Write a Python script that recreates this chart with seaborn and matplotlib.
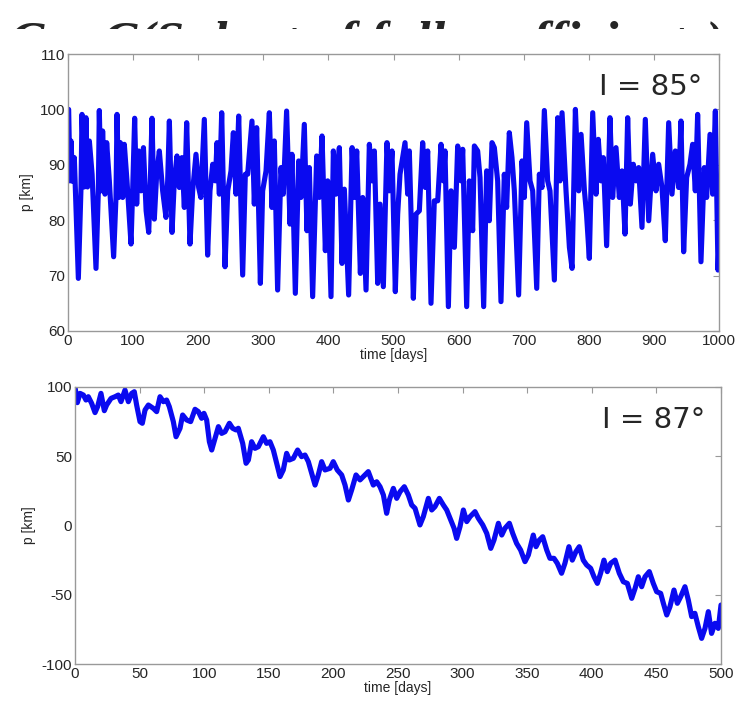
import matplotlib
matplotlib.use("Agg")
import matplotlib.pyplot as plt
import seaborn as sns
import pandas as pd
from matplotlib.patches import Rectangle

# I = 85 deg, periapsis over 1000 days
t85 = [1, 3, 4.6, 7.2, 9.7, 15.9, 20, 21.5, 25, 27.6, 30, 32.8, 37, 43, 46.6, 48.1, 50.7, 53.2, 56.8,
       59.4, 63.5, 70.1, 73.7, 75.3, 78, 80.4, 84, 86.5, 90.6, 96.8, 99.3, 102.4, 105.5, 108.5, 112.1,
       115.9, 120, 124, 126.5, 129, 132.6, 136.2, 140.3, 145.4, 150.5, 153.1, 155.7, 159.8, 163.3,
       167.4, 171, 175, 178.7, 182.3, 187.4, 191.5, 196.6, 200.7, 204, 209.4, 214.5, 218.1, 222.3,
       226.3, 228.9, 232.5, 236.1, 241.2, 245.3, 250.4, 254, 258.1, 262.2, 268.3, 272.4, 276, 282.6,
       286.2, 289.8, 295.5, 299, 304.2, 309.3, 313.3, 316.9, 322, 327.1, 330.7, 335.8, 341, 344,
       349.2, 354.3, 357.9, 363, 367.1, 370.7, 375.8, 382, 386, 390.2, 395.3, 398.9, 404, 407.6,
       411.7, 416.8, 420.9, 424.5, 431.1, 436.4, 439.9, 443.5, 449.1, 452.7, 457.8, 462.9, 467,
       470.6, 475.7, 479.3, 484.4, 490, 493.6, 497.7, 502.8, 506.4, 510, 517.7, 521.8, 524.3, 530.5,
       534.6, 539.7, 544.8, 548.9, 552.5, 557.6, 562.7, 567.9, 573, 576.6, 579.1, 584.3, 588.4,
       593.5, 598.6, 603.7, 606.3, 612.4, 616.5, 621.6, 624.2, 629.3, 632.9, 638.5, 643.1, 647.2,
       651.3, 654.9, 660, 665.1, 670.2, 673.8, 677.9, 682, 685.6, 692.2, 697.4, 701, 704.6, 709.7,
       713.8, 720, 724, 728.1, 731.7, 736.8, 740.4, 747.1, 752.2, 755.8, 758.9, 765, 770.2, 774.3,
       779.4, 784.5, 788.1, 793.3, 796.5, 800.8, 806, 811.1, 814.6, 818.7, 822.3, 827.4, 832.5,
       836.6, 841.8, 846.9, 851, 855.6, 859.7, 863.8, 868.4, 872.5, 876.6, 881.7, 886.8, 892,
       898.1, 903.2, 907.3, 912.4, 917.5, 922.7, 927.8, 932.9, 938, 941.6, 945.7, 950.3, 955.4,
       959.5, 963.6, 967.2, 972.3, 977.4, 981, 986.2, 990.3, 994.4, 998.5, 1000]
p85 = [100, 87.1, 94.3, 87, 91.3, 69.5, 86, 99.1, 86, 98.5, 86, 94.3, 88.3, 71.3, 85.3, 99.8, 85.3,
       96.1, 84.7, 94, 87.1, 73.4, 84.1, 99.1, 84.1, 94, 84.1, 93.7, 87.1, 75.7, 85.3, 98.4, 82.9,
       92.5, 85.3, 93.1, 81.7, 77.8, 87.1, 98.4, 80.2, 88.3, 92.5, 85.3, 80.5, 87.1, 97.9, 77.8,
       87.1, 91.6, 85.9, 91.3, 82.3, 97.6, 75.7, 85.3, 91.9, 85.9, 84.1, 98.2, 73.7, 85.3, 90.1,
       87.1, 94, 84.7, 99.4, 71.6, 85.3, 88.9, 95.8, 84.7, 98.8, 70.1, 88.3, 88.3, 97.9, 82.9, 96.7,
       68.6, 85.3, 88.9, 99.4, 82.3, 94.3, 67.4, 89.5, 84.7, 99.7, 79.3, 91.9, 66.8, 90.7, 84.1,
       97.3, 78.1, 89.5, 66.2, 91.6, 84.1, 95.2, 74.5, 87.1, 66.2, 92.5, 84.7, 93.1, 72.2, 85.6,
       66.5, 93.1, 84.1, 92.5, 70.4, 84.1, 67.4, 93.7, 87.1, 92.5, 68.6, 82.9, 68, 94, 85.3, 92.5,
       67.1, 81.1, 88.3, 94, 84.7, 92.5, 65.9, 81.1, 81.7, 94, 85.9, 92.5, 65, 83.5, 83.5, 93.7,
       87.1, 92.5, 64.4, 85.3, 75.1, 93.4, 87.1, 92.8, 64.4, 87.1, 78.1, 93.4, 92.5, 87.7, 64.4,
       88.9, 79.9, 94, 93.1, 87.1, 65.3, 88.3, 82.3, 95.8, 91.3, 85.3, 66.5, 90.7, 84.1, 97.6,
       87.1, 85.3, 67.7, 88.3, 85.9, 99.8, 87.1, 85.3, 69.2, 98.5, 87.1, 99.4, 85.3, 75.1, 71.3,
       100, 85.3, 95.5, 85.3, 81.1, 73.1, 99.4, 84.7, 94.6, 87.1, 91.3, 75.4, 98.5, 84.1, 93.1,
       84.1, 88.9, 77.5, 98.5, 82.9, 90.1, 87.1, 89.5, 78.7, 98.2, 79.9, 91.9, 85.3, 90.1, 85.9,
       76.3, 97.6, 84.7, 92.5, 85.9, 97.9, 74.3, 87.7, 90.1, 93.7, 85.3, 99.1, 72.5, 89.5, 84.1,
       95.5, 84.7, 99.7, 71, 76]

# I = 87 deg, periapsis over 500 days
t87 = [0, 1.8, 3.9, 6.5, 8.5, 10.3, 12.9, 15.5, 17.5, 20.1, 22.7, 24.5, 27.9, 31, 33.5, 35.6, 38.7,
       41.3, 43.9, 45.9, 47.7, 50.3, 52.1, 54.2, 56.8, 60.6, 63.2, 65.8, 68.4, 70.9, 73, 76.1, 78.2,
       81.3, 83.3, 86.4, 89.5, 92.9, 95.5, 98, 99.8, 101.9, 104, 105.8, 108.4, 111, 113.5, 116.1,
       119.5, 122, 124.6, 126.4, 129.8, 132.4, 134.2, 136.7, 139.3, 141.9, 145.8, 148.3, 150.9,
       153.5, 156.1, 158.7, 161.2, 163.8, 165.9, 169, 172.3, 175.4, 178, 180.6, 183.2, 185.8, 188.3,
       190.9, 193.5, 197.4, 199.9, 203, 206.4, 209, 211.6, 214.1, 217.5, 220.6, 223.2, 227, 230.9,
       233.5, 236.1, 238.7, 241.2, 243.3, 246.4, 249, 251.6, 254.9, 258, 260.6, 263.2, 267, 269.6,
       273.5, 276.1, 278.6, 282, 285.1, 287.7, 290.3, 293.4, 295.4, 298, 300.6, 303.2, 305.8,
       309.6, 312.2, 315.6, 318.7, 321.8, 324.3, 327.7, 330.3, 332.8, 336.2, 338.8, 341.8, 344.9,
       348.3, 350.9, 354.7, 356.8, 359.4, 362, 365.1, 367.6, 370.7, 373.3, 376.6, 379.2, 382.3,
       384.9, 387.7, 390.3, 393.4, 396, 399.1, 401.7, 404.3, 406.8, 409.4, 412, 414.6, 418, 421.3,
       424.4, 427.5, 430.9, 433.5, 436, 438.6, 441.2, 444.5, 447.6, 450.2, 453.3, 455.4, 458,
       460.5, 463.6, 466.2, 468.8, 472.1, 474.7, 477.3, 479.8, 482.4, 485, 487.6, 490.2, 492.7,
       495.3, 497.9, 500]
p87 = [100, 88.7, 95.4, 94.2, 90.6, 93, 88.2, 81.5, 85.8, 95.4, 82.9, 87, 91.8, 93, 94.2, 89.4, 97.8,
       89.4, 95.4, 96.6, 87, 75, 73.8, 83.4, 87, 84.6, 82.2, 93, 89.4, 90.6, 85.8, 75, 64.1, 70.2,
       79.8, 76.2, 75, 83.9, 82.2, 77.4, 81, 76.2, 60.5, 54.5, 62.9, 71.4, 66.5, 67.7, 73.8, 70.2,
       69, 70.2, 59.3, 44.9, 47.3, 60.5, 55.7, 56.9, 64.1, 59.3, 60.5, 54.5, 44.9, 35.3, 40.1,
       52.1, 47.3, 48.5, 54.5, 49.7, 50.9, 46.1, 37.7, 29.2, 36.5, 46.1, 40.1, 41.3, 46.1, 40.1,
       36.5, 29.2, 18.4, 25.6, 36.5, 32.9, 35.3, 38.9, 29.2, 31.6, 28, 22, 8.8, 18.4, 26.8, 19.6,
       24.4, 28, 22, 14.8, 12.4, 0.4, 6.4, 19.6, 11.2, 13.6, 19.6, 14.8, 11.2, 5.2, -2, -9.3, -0.8,
       11.2, 2.8, 6.4, 10, 5.2, 0.4, -5.7, -16.5, -10.5, 1.6, -6.9, -2, 1.6, -5.7, -12.9, -17.7,
       -26.1, -21.3, -6.9, -15.3, -10.5, -8.1, -17.7, -23.7, -23.7, -27.3, -34.5, -27.3, -15.3,
       -25, -18.9, -15.3, -25, -28.5, -30.9, -37, -41.8, -34.5, -25, -33.3, -27.3, -25, -34.5,
       -40.6, -41.8, -52.6, -45.4, -37, -44.2, -37, -33.3, -41.8, -47.8, -49, -56.2, -64.6, -58.6,
       -46.6, -56.2, -51.4, -44.2, -53.8, -65.8, -63.4, -73, -81.5, -74.3, -62.2, -77.9, -70.6,
       -74.3, -57.4]

top_xticks = list(range(0, 1001, 100))
top_yticks = list(range(60, 111, 10))
bot_xticks = list(range(0, 501, 50))
bot_yticks = list(range(-100, 101, 50))

sns.set_style("white")
plt.rcParams['font.family'] = ['Liberation Sans', 'DejaVu Sans']
plt.rcParams['axes.unicode_minus'] = False

fig = plt.figure(figsize=(7.45, 7.03), dpi=100)

# heading of the slide, cut off so only the tops of the letters show
head_y = 1 - 58 / 703
fig.text(8 / 745, head_y, "C", fontsize=38, family='Liberation Serif',
         style='italic', weight='bold', va='baseline', zorder=1)
fig.text(102 / 745, head_y, "C(Subset of full coefficients)", fontsize=38,
         family='Liberation Serif', style='italic', weight='bold', va='baseline', zorder=1)
fig.patches.append(Rectangle((0, 0), 1, 1 - 29 / 703, transform=fig.transFigure,
                             facecolor='white', edgecolor='none', zorder=2))

ax1 = fig.add_axes([68 / 745, 1 - 331 / 703, 651 / 745, 277 / 703])
ax2 = fig.add_axes([75 / 745, 1 - 664 / 703, 646 / 745, 277 / 703])

panels = [
    (ax1, t85, p85, top_xticks, top_yticks, (0, 1000), (60, 110), "I = 85°"),
    (ax2, t87, p87, bot_xticks, bot_yticks, (0, 500), (-100, 100), "I = 87°"),
]
for ax, t, p, xt, yt, xl, yl, lab in panels:
    ax.set_zorder(3)
    df = pd.DataFrame({"time": t, "p": p})
    sns.lineplot(data=df, x="time", y="p", ax=ax, color='#0a0af0', lw=3.7,
                 estimator=None, sort=False)
    ax.set_xlim(*xl)
    ax.set_ylim(*yl)
    ax.set_xticks(xt)
    ax.set_yticks(yt)
    ax.tick_params(direction='in', length=4, width=0.8, color='#999999',
                   top=True, right=True, labelsize=11, pad=2)
    for s in ax.spines.values():
        s.set_color('#999999')
        s.set_linewidth(1.0)
    ax.set_xlabel("time [days]", fontsize=10, labelpad=0)
    ax.set_ylabel("p [km]", fontsize=10, labelpad=4)
    ax.text(0.975, 0.88, lab, transform=ax.transAxes, ha='right', va='center',
            fontsize=21, family='DejaVu Sans')

fig.savefig("out.png", dpi=100, facecolor='white')
